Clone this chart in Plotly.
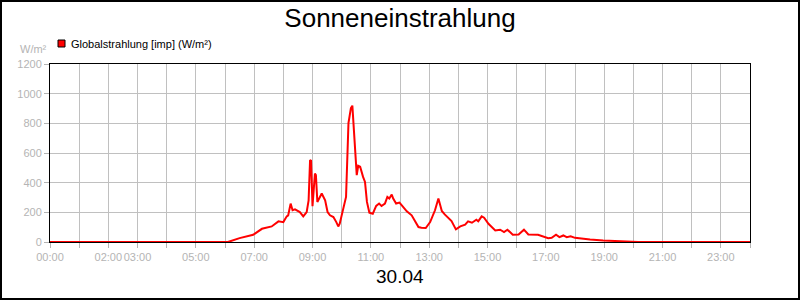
import plotly.graph_objects as go

# ---- data ----
times = ["00:00", "06:00", "06:06", "06:30", "06:58", "07:16", "07:36", "07:50", "08:00", "08:07",
         "08:10", "08:15", "08:19", "08:24", "08:34", "08:41", "08:48", "08:52", "08:55", "08:57",
         "09:00", "09:05", "09:07", "09:10", "09:16", "09:19", "09:26", "09:31", "09:36", "09:43",
         "09:49", "09:53", "09:56", "10:04", "10:09", "10:14", "10:19", "10:22", "10:24", "10:28",
         "10:31", "10:34", "10:38", "10:44", "10:48", "10:52", "10:57", "11:04", "11:11", "11:17",
         "11:22", "11:29", "11:34", "11:38", "11:43", "11:46", "11:52", "11:59", "12:04", "12:14",
         "12:24", "12:38", "12:44", "12:53", "13:02", "13:12", "13:19", "13:26", "13:32", "13:40",
         "13:46", "13:55", "14:04", "14:14", "14:20", "14:28", "14:37", "14:41", "14:48", "14:53",
         "15:02", "15:16", "15:26", "15:34", "15:41", "15:52", "16:04", "16:15", "16:24", "16:44",
         "16:55", "17:05", "17:12", "17:21", "17:28", "17:36", "17:43", "17:51", "18:00", "18:10",
         "18:31", "18:58", "19:26", "20:00", "20:10", "24:00"]
globalstrahlung = [0, 0, 0, 26, 49, 89, 105, 139, 134, 173,
                   180, 259, 214, 220, 202, 173, 202, 281, 553, 548,
                   241, 462, 451, 270, 304, 327, 281, 202, 180, 168,
                   134, 105, 123, 236, 304, 801, 903, 919, 812, 553,
                   451, 514, 507, 439, 405, 270, 198, 191, 243, 259,
                   243, 259, 304, 293, 320, 293, 259, 266, 247, 207,
                   180, 101, 96, 94, 134, 214, 293, 209, 186, 157,
                   141, 85, 105, 117, 139, 130, 150, 139, 173, 164,
                   123, 78, 83, 67, 83, 49, 51, 83, 51, 49,
                   39, 26, 28, 49, 33, 44, 33, 39, 28, 26,
                   17, 10, 5, 1, 0, 0]
tick_labels = ["00:00", "02:00", "03:00", "05:00", "07:00", "09:00", "11:00",
               "13:00", "15:00", "17:00", "19:00", "21:00", "23:00"]
title_text = "Sonneneinstrahlung"
date_text = "30.04"
series_name = "Globalstrahlung [imp] (W/m²)"
unit_text = "W/m²"

hours = [int(t[:2]) + int(t[3:]) / 60 for t in times]
tickvals = list(range(25))
ticktext = [f"{h:02d}:00" if f"{h:02d}:00" in tick_labels else "" for h in tickvals]

W, H = 800, 300
ML, MR, MT, MB = 50, 50, 64, 58
PW, PH = W - ML - MR, H - MT - MB


def px_x(x):
    return (x - ML) / PW


def px_y(y):
    return (H - MB - y) / PH


GRAY = "#b4b4b4"
FONT = "Liberation Sans, Arial, sans-serif"

fig = go.Figure()
fig.add_trace(go.Scatter(x=hours, y=globalstrahlung, mode="lines", name=series_name,
                         line=dict(color="#ff0000", width=2), showlegend=False))

fig.update_layout(
    width=W, height=H,
    margin=dict(l=ML, r=MR, t=MT, b=MB, pad=0),
    paper_bgcolor="white", plot_bgcolor="white",
    font=dict(family=FONT, size=11, color=GRAY),
    title=dict(text=title_text, x=0.5, xanchor="center", y=1 - 18 / H, yanchor="middle",
               font=dict(family=FONT, size=26, color="black")),
    showlegend=False,
)
fig.update_xaxes(range=[0, 24], tickvals=tickvals, ticktext=ticktext, tickangle=0,
                 showgrid=True, gridcolor="#c0c0c0", gridwidth=1,
                 ticks="outside", ticklen=5, tickcolor=GRAY,
                 showline=True, linecolor="black", linewidth=1, mirror=True,
                 zeroline=False, tickfont=dict(family=FONT, size=11, color=GRAY))
fig.update_yaxes(range=[0, 1200], dtick=200, tick0=0,
                 showgrid=True, gridcolor="#c0c0c0", gridwidth=1,
                 ticks="outside", ticklen=5, tickcolor=GRAY,
                 showline=True, linecolor="black", linewidth=1, mirror=True,
                 zeroline=False, tickfont=dict(family=FONT, size=11, color=GRAY))

# outer frame
fig.add_shape(type="rect", xref="paper", yref="paper",
              x0=px_x(1), x1=px_x(799), y0=px_y(299), y1=px_y(1),
              line=dict(color="black", width=2), fillcolor="rgba(0,0,0,0)", layer="above")
# legend square
fig.add_shape(type="rect", xref="paper", yref="paper",
              x0=px_x(58), x1=px_x(65), y0=px_y(47), y1=px_y(40),
              line=dict(color="black", width=1), fillcolor="#ff0000")

fig.add_annotation(text=series_name, xref="paper", yref="paper", x=px_x(69), y=px_y(44),
                   xanchor="left", yanchor="middle", showarrow=False,
                   font=dict(family=FONT, size=11, color="black"))
fig.add_annotation(text=unit_text, xref="paper", yref="paper", x=px_x(49), y=px_y(49),
                   xanchor="right", yanchor="middle", showarrow=False,
                   font=dict(family=FONT, size=11, color=GRAY))
fig.add_annotation(text=date_text, xref="paper", yref="paper", x=0.5, y=px_y(276),
                   xanchor="center", yanchor="middle", showarrow=False,
                   font=dict(family=FONT, size=19, color="black"))

fig.write_html("out.html")
